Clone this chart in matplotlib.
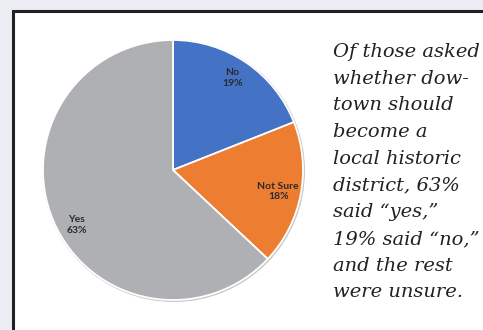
import matplotlib.pyplot as plt
from matplotlib.patches import Rectangle, Circle

# survey answers, clockwise from 12 o'clock
categories = ['No', 'Not Sure', 'Yes']
shares = [19, 18, 63]
slice_colors = ['#4472C4', '#ED7D31', '#AFB0B4']

caption_lines = [
    'Of those asked',
    'whether dow-',
    'town should',
    'become a',
    'local historic',
    'district, 63%',
    'said \u201cyes,\u201d',
    '19% said \u201cno,\u201d',
    'and the rest',
    'were unsure.',
]

W, H = 483, 330
fig = plt.figure(figsize=(W / 100, H / 100), dpi=100, facecolor='#ECECF5')
ax = fig.add_axes([0, 0, 1, 1])

# white panel with dark frame running off the right and bottom edges
ax.add_patch(Rectangle((12.5, -10), W + 20, H - 10.5 + 10, facecolor='white',
                       edgecolor='#222222', linewidth=2.2, zorder=0))

cx, cy, r = 173, 160, 130

# faint shadow ring around the pie
ax.add_patch(Circle((cx + 0.8, cy - 0.8), r + 1.2, facecolor='#C8C8C8',
                    edgecolor='none', zorder=1))

labels = [f'{c}\n{v}%' for c, v in zip(categories, shares)]
wedges, texts = ax.pie(shares, labels=labels, colors=slice_colors,
                       startangle=90, counterclock=False,
                       center=(cx, cy), radius=r, labeldistance=0.84,
                       wedgeprops=dict(edgecolor='white', linewidth=1.3),
                       textprops=dict(fontsize=7.5, fontweight='bold',
                                      family='Lato', color='#2A2A2A',
                                      ha='center', va='center',
                                      linespacing=1.25),
                       frame=True)
for w in wedges:
    w.set_zorder(2)
# best-fit style nudges for the data labels
label_nudge = [(-2, 2), (-2, -1), (4, -12)]
for t, (dx, dy) in zip(texts, label_nudge):
    x, y = t.get_position()
    t.set_position((x + dx, y + dy))
    t.set_zorder(3)
ax.set_xlim(0, W)
ax.set_ylim(0, H)
ax.axis('off')

for i, line in enumerate(caption_lines):
    ax.text(333, H - 57 - i * 26.7, line, fontsize=14, style='italic',
            family='DejaVu Serif', color='#222222', ha='left',
            va='baseline', zorder=4)

fig.savefig('out.png', dpi=100, facecolor=fig.get_facecolor())
